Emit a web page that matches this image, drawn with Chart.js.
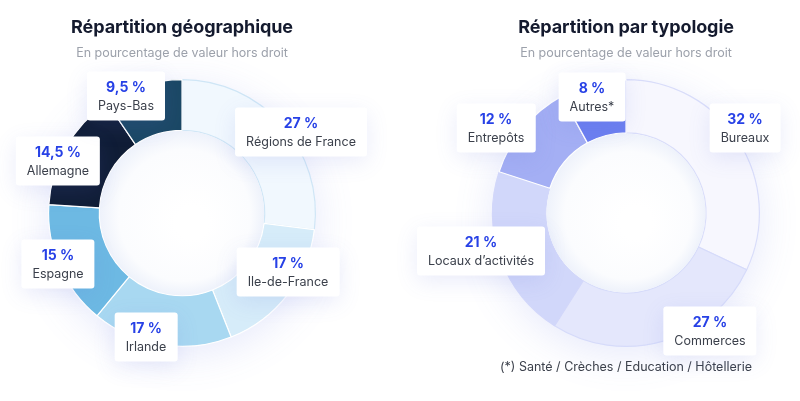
<!DOCTYPE html>
<html>
<head>
<meta charset="utf-8">
<script src="https://cdn.jsdelivr.net/npm/chart.js@4.4.1/dist/chart.umd.min.js"></script>
<style>
  html, body { margin: 0; padding: 0; background: #fff; }
  .page { position: relative; width: 800px; height: 401px; overflow: hidden; font-family: "Inter", "Lato", sans-serif; }
  .page canvas { position: absolute; top: 0; }
  .title { position: absolute; width: 400px; text-align: center; font-weight: 700; font-size: 18px; color: #141a2e; top: 16px; letter-spacing: -0.1px; }
  .sub { position: absolute; width: 400px; text-align: center; font-size: 12.5px; color: #9ca1ab; top: 45px; }
  .box {
    position: absolute; background: #fff; border-radius: 3px; padding: 6px 11px 6px;
    box-shadow: 0 6px 22px rgba(90, 110, 220, 0.13); text-align: center; white-space: nowrap;
    transform: translate(-50%, -50%);
  }
  .box .pct { font-weight: 700; font-size: 14px; color: #2741e6; line-height: 18px; }
  .box .lab { font-size: 12.5px; color: #3b404b; line-height: 19px; }
  .note { position: absolute; left: 400px; width: 452px; text-align: center; top: 359px; font-size: 12.5px; color: #3b404b; }
</style>
</head>
<body>
<div class="page" id="page">
  <canvas id="geo" width="400" height="401" style="left:0"></canvas>
  <canvas id="typo" width="400" height="401" style="left:400px"></canvas>
  <div class="title" style="left:-18px">Répartition géographique</div>
  <div class="sub" style="left:-18px">En pourcentage de valeur hors droit</div>
  <div class="title" style="left:426px">Répartition par typologie</div>
  <div class="sub" style="left:426px">En pourcentage de valeur hors droit</div>
  <div class="note">(*) Santé / Crèches / Education / Hôtellerie</div>
</div>
<script>
// données
const geoLabels = ["Régions de France", "Ile-de-France", "Irlande", "Espagne", "Allemagne", "Pays-Bas"];
const geoValues = [27, 17, 17, 15, 14.5, 9.5];
const typoLabels = ["Bureaux", "Commerces", "Locaux d’activités", "Entrepôts", "Autres*"];
const typoValues = [32, 27, 21, 12, 8];

// couleurs
const geoColors = ["#f1f8fe", "#d6ecf9", "#a8d8f1", "#6db9e3", "#101d36", "#1b4865"];
const geoBorders = ["#cfe6f6", "#ffffff", "#ffffff", "#ffffff", "#ffffff", "#ffffff"];
const typoColors = ["#f7f7fe", "#e4e7fc", "#d1d7fa", "#a4aff4", "#6c7ff0"];
const typoBorders = ["#d9ddfa", "#d6dbfa", "#d2d7fa", "#ffffff", "#ffffff"];

// position des étiquettes par rapport au centre du donut
const geoLabelPos = [[119, -81], [106, 59], [-36, 124], [-124, 51], [-124, -52], [-56, -117]];
const typoLabelPos = [[119, -85], [84, 118], [-145, 38], [-130, -85], [-34, -116]];

function fmt(v) {
  return String(v).replace(".", ",") + " %";
}

const glowPlugin = {
  id: "glow",
  beforeDatasetsDraw(chart) {
    const arc = chart.getDatasetMeta(0).data[0];
    if (!arc) return;
    const ctx = chart.ctx;
    ctx.save();
    ctx.shadowColor = "rgba(100, 120, 230, 0.16)";
    ctx.shadowBlur = 40;
    ctx.shadowOffsetY = 8;
    ctx.fillStyle = "#ffffff";
    ctx.beginPath();
    ctx.arc(arc.x, arc.y, arc.outerRadius, 0, Math.PI * 2);
    ctx.fill();
    ctx.restore();
  },
  afterDatasetsDraw(chart) {
    const arc = chart.getDatasetMeta(0).data[0];
    if (!arc) return;
    const ctx = chart.ctx;
    const r = arc.innerRadius - 0.5;
    ctx.save();
    const g = ctx.createRadialGradient(arc.x + 10, arc.y + 10, r * 0.2, arc.x, arc.y, r);
    g.addColorStop(0, "#ffffff");
    g.addColorStop(0.75, "#fbfcfe");
    g.addColorStop(1, "#eef2fb");
    ctx.fillStyle = g;
    ctx.beginPath();
    ctx.arc(arc.x, arc.y, r, 0, Math.PI * 2);
    ctx.fill();
    ctx.restore();
  }
};

function buildDonut(id, labels, values, colors, borders, cutout, padding) {
  const ctx = document.getElementById(id).getContext("2d");
  return new Chart(ctx, {
    type: "doughnut",
    data: {
      labels: labels,
      datasets: [{
        data: values,
        backgroundColor: colors,
        borderColor: borders,
        borderWidth: 1.2
      }]
    },
    options: {
      responsive: false,
      animation: false,
      devicePixelRatio: 1,
      cutout: cutout,
      layout: { padding: padding },
      plugins: {
        legend: { display: false },
        tooltip: { enabled: false }
      }
    },
    plugins: [glowPlugin]
  });
}

function addBoxes(chart, labels, values, pos, offsetX) {
  const arc = chart.getDatasetMeta(0).data[0];
  const page = document.getElementById("page");
  labels.forEach((lab, i) => {
    const box = document.createElement("div");
    box.className = "box";
    box.style.left = (offsetX + arc.x + pos[i][0]) + "px";
    box.style.top = (arc.y + pos[i][1]) + "px";
    box.innerHTML = '<div class="pct">' + fmt(values[i]) + '</div><div class="lab">' + lab + '</div>';
    page.appendChild(box);
  });
}

const geoChart = buildDonut("geo", geoLabels, geoValues, geoColors, geoBorders, "62%",
  { left: 48, right: 84, top: 79, bottom: 54 });
const typoChart = buildDonut("typo", typoLabels, typoValues, typoColors, typoBorders, "60%",
  { left: 92, right: 40, top: 79, bottom: 54 });

addBoxes(geoChart, geoLabels, geoValues, geoLabelPos, 0);
addBoxes(typoChart, typoLabels, typoValues, typoLabelPos, 400);
</script>
</body>
</html>
